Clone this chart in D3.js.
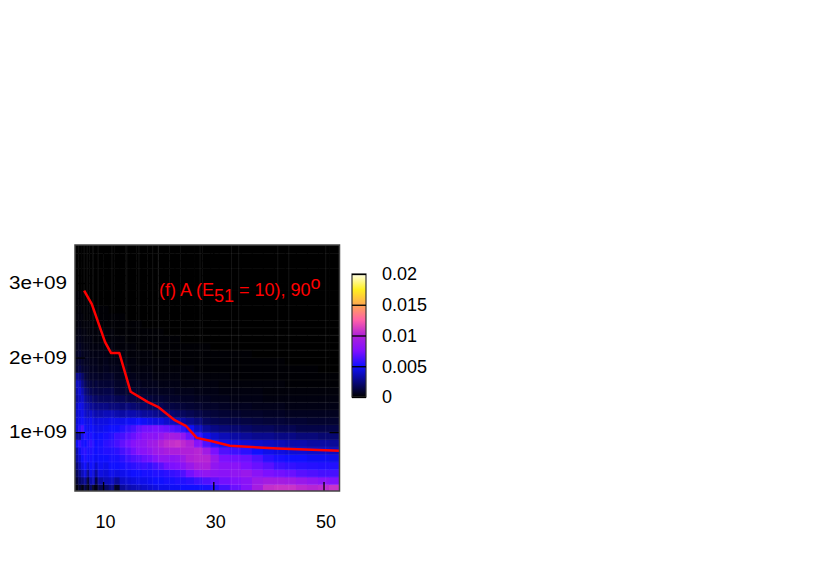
<!DOCTYPE html>
<html>
<head>
<meta charset="utf-8">
<script src="https://cdn.jsdelivr.net/npm/d3@7"></script>
<style>
body { margin: 0; background: #fff; }
text { font-family: "Liberation Sans", Arial, sans-serif; }
</style>
</head>
<body>
<div id="chart"></div>
<script>
// column edges (x units) and row edges (1e9 units) of the image plot
var xEdges = [4.9,5.5,6,6.5,7,7.5,8,8.5,9,10,11,12,13,14,15,16,17,18,19,20,21,22,23,24,25,26.5,28,29.5,31,33,35,37,39,41,43,45,47,49,51,53];
var yEdges = [0.2,0.3,0.4,0.5,0.6,0.7,0.8,0.9,1.0,1.1,1.2,1.3,1.4,1.5,1.6,1.7,1.8,1.9,2.0,2.1,2.2,2.3,2.4,2.5,2.6,2.7,2.8,2.9,3.0,3.1,3.2,3.3,3.4,3.52];

// cell values x 1e-4, bottom row first
var heat = [
[2,10,4,14,3,20,6,3,16,20,26,8,30,34,36,38,40,42,44,46,46,48,48,50,50,50,52,56,62,70,78,94,106,108,108,104,102,104,108],
[10,20,24,30,12,34,36,14,32,36,38,30,40,42,44,46,46,48,50,50,52,52,54,54,56,60,64,68,72,76,80,90,94,94,92,88,84,80,76],
[18,28,36,44,28,46,42,30,44,42,46,44,46,48,50,50,52,52,54,54,56,58,60,64,72,80,84,82,80,84,88,80,74,72,70,66,64,62,62],
[24,36,44,50,40,50,48,40,48,46,50,50,52,54,56,58,60,58,62,66,72,74,76,80,88,96,98,84,80,80,74,70,66,60,58,56,55,54,54],
[32,42,50,54,50,52,50,48,50,50,52,52,56,60,64,66,70,72,78,84,84,82,84,90,100,102,102,88,74,72,70,64,56,52,50,50,48,48,46],
[34,48,54,56,52,54,52,50,52,54,54,56,62,66,72,78,80,84,90,92,96,98,98,100,100,102,92,74,64,60,56,50,46,44,42,42,40,40,38],
[48,58,52,50,54,58,54,50,52,56,58,62,68,72,78,82,84,90,92,100,104,106,108,104,100,78,64,54,48,44,42,40,38,36,34,34,32,32,30],
[30,30,48,56,50,54,50,48,50,52,54,60,62,66,70,74,80,82,80,86,92,94,92,84,70,56,46,40,36,32,30,28,28,26,26,24,24,22,22],
[44,56,62,50,46,50,48,46,46,48,50,50,54,58,62,68,72,72,74,72,70,66,62,56,48,38,30,26,24,22,20,18,18,16,16,14,14,14,14],
[42,48,50,46,44,48,44,42,44,44,46,46,46,48,48,50,48,46,44,44,40,38,36,32,28,24,18,16,15,14,13,12,11,11,10,10,9,9,9],
[40,44,46,40,36,40,36,34,34,36,36,34,32,34,34,32,30,30,28,26,24,22,20,18,16,14,12,11,10,9,8,8,7,7,6,6,6,6,6],
[38,46,44,36,34,30,28,26,26,26,24,24,22,24,22,20,20,18,18,16,14,13,12,11,10,9,8,8,7,6,6,5,5,5,4,4,4,4,4],
[32,38,40,30,26,24,20,20,18,18,18,16,16,14,14,12,12,12,10,10,9,8,8,7,7,6,6,5,5,4,4,4,3,3,3,3,3,3,3],
[34,42,34,24,20,16,14,14,13,14,14,10,10,9,9,8,8,7,7,6,6,6,5,5,5,4,4,4,3,3,3,3,2,2,2,2,2,2,2],
[38,36,26,18,14,12,10,12,10,10,10,8,8,7,6,6,5,5,5,4,4,4,4,3,3,3,3,3,2,2,2,2,2,2,1,1,1,1,1],
[28,26,20,12,10,8,8,8,7,8,8,6,6,5,5,4,4,4,3,3,3,3,3,2,2,2,2,2,2,1,1,1,1,1,1,1,1,1,1],
[10,14,10,8,8,6,6,6,5,6,5,5,4,4,3,3,3,3,2,2,2,2,2,2,2,1,1,1,1,1,1,1,1,1,1,1,1,0,0],
[8,10,8,6,6,5,5,5,4,5,4,4,3,3,3,2,2,2,2,2,2,1,1,1,1,1,1,1,1,1,1,1,1,1,0,0,0,0,0],
[7,9,6,5,5,4,4,4,4,4,3,3,3,2,2,2,2,2,1,1,1,1,1,1,1,1,1,1,1,1,1,0,0,0,0,0,0,0,0],
[5,7,5,4,4,3,3,3,3,3,3,2,2,2,2,1,1,1,1,1,1,1,1,1,1,1,1,0,0,0,0,0,0,0,0,0,0,0,0],
[4,5,4,3,3,3,2,2,2,2,2,2,2,1,1,1,1,1,1,1,1,1,1,0,0,0,0,0,0,0,0,0,0,0,0,0,0,0,0],
[3,4,3,3,2,2,2,2,2,2,2,1,1,1,1,1,1,1,1,1,0,0,0,0,0,0,0,0,0,0,0,0,0,0,0,0,0,0,0],
[2,3,2,2,2,2,1,1,1,1,1,1,1,1,1,1,0,0,0,0,0,0,0,0,0,0,0,0,0,0,0,0,0,0,0,0,0,0,0],
[2,2,2,1,1,1,1,1,1,1,1,1,1,0,0,0,0,0,0,0,0,0,0,0,0,0,0,0,0,0,0,0,0,0,0,0,0,0,0],
[1,2,1,1,1,1,1,1,1,1,0,0,0,0,0,0,0,0,0,0,0,0,0,0,0,0,0,0,0,0,0,0,0,0,0,0,0,0,0],
[1,1,1,1,1,0,0,0,0,0,0,0,0,0,0,0,0,0,0,0,0,0,0,0,0,0,0,0,0,0,0,0,0,0,0,0,0,0,0],
[1,1,1,0,0,0,0,0,0,0,0,0,0,0,0,0,0,0,0,0,0,0,0,0,0,0,0,0,0,0,0,0,0,0,0,0,0,0,0],
[0,0,0,0,0,0,0,0,0,0,0,0,0,0,0,0,0,0,0,0,0,0,0,0,0,0,0,0,0,0,0,0,0,0,0,0,0,0,0],
[0,0,0,0,0,0,0,0,0,0,0,0,0,0,0,0,0,0,0,0,0,0,0,0,0,0,0,0,0,0,0,0,0,0,0,0,0,0,0],
[0,0,0,0,0,0,0,0,0,0,0,0,0,0,0,0,0,0,0,0,0,0,0,0,0,0,0,0,0,0,0,0,0,0,0,0,0,0,0],
[0,0,0,0,0,0,0,0,0,0,0,0,0,0,0,0,0,0,0,0,0,0,0,0,0,0,0,0,0,0,0,0,0,0,0,0,0,0,0],
[0,0,0,0,0,0,0,0,0,0,0,0,0,0,0,0,0,0,0,0,0,0,0,0,0,0,0,0,0,0,0,0,0,0,0,0,0,0,0],
[0,0,0,0,0,0,0,0,0,0,0,0,0,0,0,0,0,0,0,0,0,0,0,0,0,0,0,0,0,0,0,0,0,0,0,0,0,0,0]
];

// faint seams of the image, x units / 1e9 units
var seamX = [6.56,7.1,8.2,9.1,11.6,14.3,16.5,19,20,27.6,33.3,34.6,41.7,43.7,50.4];
var seamY = [0.3,0.4,0.5,0.6,0.7,0.8,0.9,1.0,1.1,1.2,1.3,1.4,1.5,1.6,1.7,1.8,1.9,2.0,2.1,2.2,2.3,2.4];

// red curve
var lineX = [6.56,7.95,10.36,11.45,12.95,15.0,18.15,19.95,23.0,25.0,27.0,29.4,33.0,41.7,52.9];
var lineY = [2.897,2.718,2.208,2.06,2.06,1.541,1.403,1.34,1.16,1.085,0.923,0.883,0.816,0.781,0.749];

var xTicks = [10,30,50];
var yTicks = [1,2,3];
var yTickLabels = ["1e+09","2e+09","3e+09"];
var barTicks = [0,0.005,0.01,0.015,0.02];
var barLabels = ["0","0.005","0.01","0.015","0.02"];
var paletteStops = [0,0.005,0.0075,0.01,0.0125,0.015,0.0175,0.02];
var paletteColors = ["#000000","#1010ff","#8010ff","#b020d8","#ff60a8","#ffa850","#fff020","#ffffe8"];

var svg = d3.select("#chart").append("svg")
    .attr("width", 830)
    .attr("height", 581);

var x = d3.scaleLinear().domain([4.9,52.9]).range([75,339.5]);
var y = d3.scaleLinear().domain([0.21,3.51]).range([491,245]);

var color = d3.scaleLinear().domain(paletteStops).range(paletteColors).clamp(true);

var clip = svg.append("clipPath").attr("id","plot-clip").append("rect")
    .attr("x",75).attr("y",245).attr("width",264.5).attr("height",246);

var g1 = svg.append("g").attr("clip-path","url(#plot-clip)");

heat.forEach(function(row, i){
    g1.selectAll(null)
        .data(row)
        .enter().append("rect")
        .attr("x", function(d,j){ return x(xEdges[j]); })
        .attr("width", function(d,j){ return x(xEdges[j+1]) - x(xEdges[j]) + 0.5; })
        .attr("y", y(yEdges[i+1]))
        .attr("height", y(yEdges[i]) - y(yEdges[i+1]) + 0.5)
        .attr("fill", function(d){ return color(d*1e-4); });
});

g1.selectAll(".seamx").data(seamX).enter().append("line")
    .attr("x1", function(d){ return x(d); })
    .attr("x2", function(d){ return x(d); })
    .attr("y1", 245).attr("y2", 491)
    .attr("stroke","#fff").attr("stroke-opacity",0.08);

g1.selectAll(".seamy").data(seamY).enter().append("line")
    .attr("y1", function(d){ return y(d); })
    .attr("y2", function(d){ return y(d); })
    .attr("x1", 75).attr("x2", 339.5)
    .attr("stroke","#fff").attr("stroke-opacity",0.06);

// inward ticks on all four sides
function styleAxis(a){
    a.select(".domain").remove();
    a.selectAll("line").attr("stroke","#000").attr("stroke-width",1.3);
    a.selectAll("text").attr("fill","#000").style("font-size","18px");
}

var bottom = svg.append("g").attr("transform","translate(0,491)")
    .call(d3.axisBottom(x).tickValues(xTicks).tickSize(-9).tickPadding(22))
    .call(styleAxis);
bottom.selectAll("text").attr("dx",2).attr("y",24);

svg.append("g").attr("transform","translate(0,245)")
    .call(d3.axisTop(x).tickValues(xTicks).tickSize(-9).tickFormat(""))
    .call(styleAxis);

svg.append("g").attr("transform","translate(75,0)")
    .call(d3.axisLeft(y).tickValues(yTicks).tickSize(-10).tickPadding(8)
        .tickFormat(function(d,i){ return yTickLabels[i]; }))
    .call(styleAxis)
    .selectAll("text")
    .attr("textLength",58)
    .attr("lengthAdjust","spacingAndGlyphs");

svg.append("g").attr("transform","translate(339.5,0)")
    .call(d3.axisRight(y).tickValues(yTicks).tickSize(-10).tickFormat(""))
    .call(styleAxis);

svg.append("path")
    .datum(d3.zip(lineX,lineY))
    .attr("fill","none")
    .attr("stroke","#ff0000")
    .attr("stroke-width",2.5)
    .attr("stroke-linejoin","round")
    .attr("d", d3.line().x(function(d){ return x(d[0]); }).y(function(d){ return y(d[1]); }));

svg.append("rect")
    .attr("x",75).attr("y",245).attr("width",264.5).attr("height",246)
    .attr("fill","none").attr("stroke","#444").attr("stroke-width",1.5);

// annotation
var note = svg.append("text")
    .attr("x",159).attr("y",296)
    .attr("fill","#ff0000")
    .style("font-size","18px");
note.append("tspan").text("(f) A (E");
note.append("tspan").attr("dy",6).text("51");
note.append("tspan").attr("dy",-6).text(" = 10), 90");
note.append("tspan").attr("dy",-7).text("o");

// colour bar
var barScale = d3.scaleLinear().domain([0,0.02]).range([397,274]);
var defs = svg.append("defs");
var grad = defs.append("linearGradient").attr("id","bar-grad")
    .attr("x1",0).attr("x2",0).attr("y1",1).attr("y2",0);
grad.selectAll("stop").data(paletteStops).enter().append("stop")
    .attr("offset", function(d){ return d/0.02; })
    .attr("stop-color", function(d,i){ return paletteColors[i]; });

svg.append("rect")
    .attr("x",352).attr("y",274).attr("width",14).attr("height",123)
    .attr("fill","url(#bar-grad)")
    .attr("stroke","#333").attr("stroke-width",1.2);

svg.append("g").attr("transform","translate(366,0)")
    .call(d3.axisRight(barScale).tickValues(barTicks).tickSize(-14).tickPadding(16)
        .tickFormat(function(d,i){ return barLabels[i]; }))
    .call(styleAxis)
    .selectAll("text").attr("x",16);
</script>
</body>
</html>
